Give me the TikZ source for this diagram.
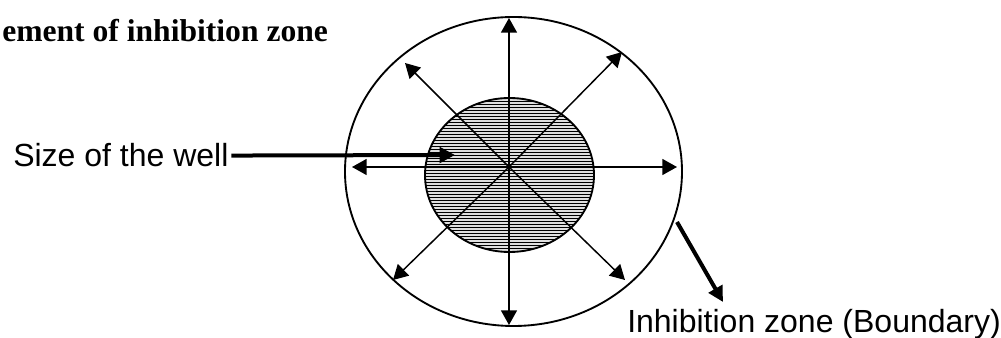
\documentclass[tikz,border=0pt]{standalone}
\usepackage{fontspec}
\setmainfont{Liberation Sans}
\newfontfamily\timesfont{Liberation Serif}
\usetikzlibrary{arrows.meta}

\begin{document}
\begin{tikzpicture}[x=0.75pt,y=-0.75pt,
  thinarr/.style={line width=1.1pt,-{Triangle[length=11pt,width=12pt]}},
  thickarr/.style={line width=3pt,-{Triangle[length=11.5pt,width=11.5pt]}},
  lbl/.style={font=\fontsize{24pt}{28pt}\selectfont,inner sep=0pt,anchor=base west}]
  \useasboundingbox (0,0) rectangle (1001,338);
  % title
  \node[lbl,font=\timesfont\bfseries\fontsize{23.7pt}{28pt}\selectfont] (title) at (2,42)
    {ement of inhibition zone};
  % well (striped disc)
  \fill[gray!25] (509.5,175) ellipse [x radius=84.5,y radius=77];
  \begin{scope}
    \clip (509.5,175) ellipse [x radius=84.5,y radius=77];
    \foreach \yy in {98,101,...,254}
      \draw[line width=0.65pt] (420,\yy) -- (600,\yy);
  \end{scope}
  \draw[line width=1.4pt] (509.5,175) ellipse [x radius=84.5,y radius=77];
  % inhibition zone
  \draw[line width=1.4pt] (513.5,171.5) ellipse [x radius=168.5,y radius=154.5];
  % arrows out of the centre
  \coordinate (c) at (509,167);
  \foreach \n/\x/\y in {n/509/18, s/509/325, w/352/167, e/677/167,
                        nw/405/63, ne/622/52, sw/393/280, se/625/280}{
    \coordinate (\n) at (\x,\y);
    \draw[thinarr] (c) -- (\n);
  }
  % labels
  \node[lbl] (welltext) at (13,167) {Size of the well};
  \coordinate (welltip) at (455,155);
  \draw[thickarr,shorten <=2pt] (welltext.east) -- (welltip);
  \coordinate (rim) at (677,222);
  \coordinate (rimtip) at (723,302);
  \draw[thickarr] (rim) -- (rimtip);
  \node[lbl] (zonetext) at (627,333) {Inhibition zone (Boundary)};
\end{tikzpicture}
\end{document}
